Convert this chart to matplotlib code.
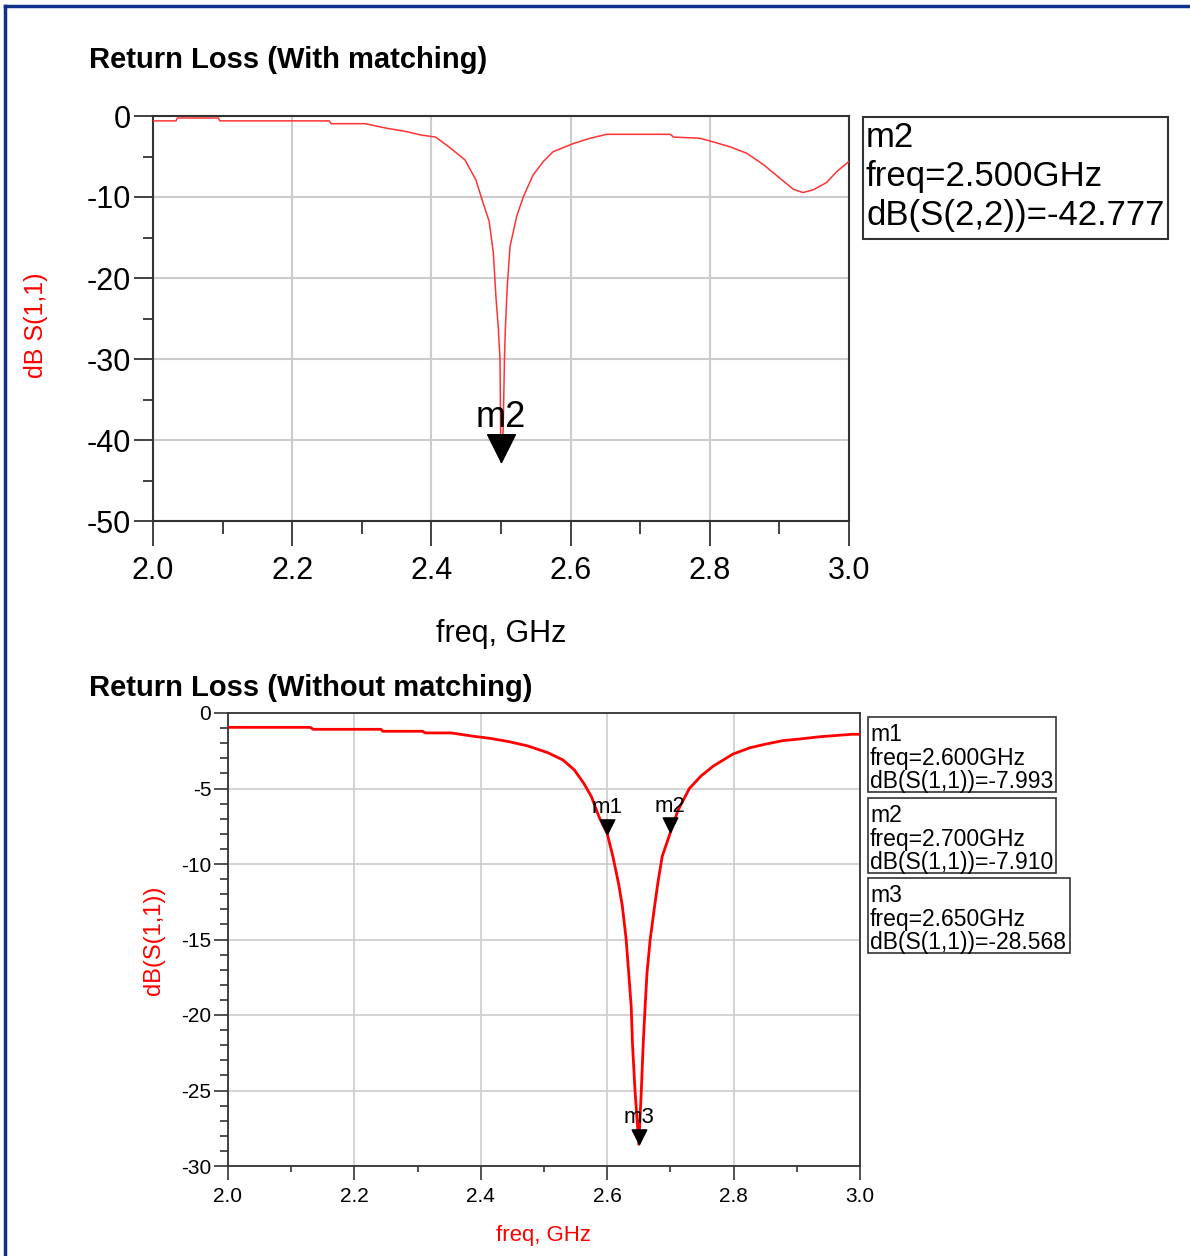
import matplotlib
matplotlib.use("Agg")
import matplotlib.pyplot as plt
from matplotlib.path import Path
from matplotlib.patches import Rectangle
from matplotlib.lines import Line2D
from matplotlib.ticker import MultipleLocator

# ---- data ----
freq_with = [2.000, 2.033, 2.035, 2.094, 2.096, 2.253, 2.256, 2.305, 2.335, 2.363,
             2.385, 2.406, 2.425, 2.448, 2.464, 2.473, 2.483, 2.489, 2.493, 2.496,
             2.4986, 2.4995, 2.500, 2.503, 2.505, 2.506, 2.509, 2.513, 2.5225, 2.532,
             2.546, 2.561, 2.575, 2.604, 2.628, 2.652, 2.743, 2.748, 2.786, 2.805,
             2.829, 2.853, 2.877, 2.901, 2.920, 2.934, 2.949, 2.968, 2.982, 3.000]
s11_with = [-0.60, -0.60, -0.25, -0.25, -0.60, -0.60, -0.95, -0.95, -1.5, -1.9,
            -2.35, -2.6, -3.8, -5.4, -7.9, -10.4, -13.0, -16.9, -22.7, -26.0,
            -30.0, -39.5, -42.777, -39.0, -30.0, -26.8, -21.0, -16.1, -12.4, -10.0,
            -7.3, -5.6, -4.4, -3.4, -2.75, -2.26, -2.26, -2.6, -2.75, -3.2,
            -3.8, -4.6, -6.0, -7.7, -9.05, -9.45, -9.1, -8.2, -6.9, -5.6]

freq_without = [2.000, 2.130, 2.135, 2.242, 2.245, 2.308, 2.312, 2.353, 2.390, 2.415,
                2.445, 2.475, 2.506, 2.530, 2.548, 2.563, 2.575, 2.587, 2.600, 2.609,
                2.618, 2.624, 2.630, 2.634, 2.638, 2.640, 2.644, 2.650, 2.654, 2.657,
                2.660, 2.663, 2.668, 2.675, 2.680, 2.687, 2.700, 2.712, 2.730, 2.748,
                2.768, 2.799, 2.826, 2.852, 2.878, 2.905, 2.937, 2.987, 3.000]
s11_without = [-0.95, -0.95, -1.08, -1.08, -1.21, -1.21, -1.32, -1.32, -1.55, -1.68,
               -1.90, -2.19, -2.63, -3.11, -3.77, -4.66, -5.54, -6.87, -7.993, -9.5,
               -11.3, -12.8, -15.0, -17.2, -19.45, -21.9, -25.0, -28.568, -25.0, -21.9,
               -19.45, -17.2, -15.0, -12.8, -11.3, -9.5, -7.910, -6.44, -5.0, -4.19,
               -3.51, -2.72, -2.30, -2.05, -1.83, -1.72, -1.57, -1.41, -1.41]

markers_with = [("m2", 2.500, -42.777, "dB(S(2,2))")]
markers_without = [("m1", 2.600, -7.993, "dB(S(1,1))"),
                   ("m2", 2.700, -7.910, "dB(S(1,1))"),
                   ("m3", 2.650, -28.568, "dB(S(1,1))")]

xticks = [2.0, 2.2, 2.4, 2.6, 2.8, 3.0]

SANS = ["Liberation Sans", "DejaVu Sans"]
plt.rcParams["font.family"] = SANS
plt.rcParams["axes.unicode_minus"] = False

W, H = 1190, 1256
fig = plt.figure(figsize=(W / 100, H / 100), dpi=100)


def fx(px):
    return px / W


def fy(py):
    return 1 - py / H


# marker: down triangle with its tip on the point
tri = Path([(0, 0), (-1, 2), (1, 2), (0, 0)], closed=True)

# ---- top chart ----
ax1 = fig.add_axes([fx(153), fy(521), fx(849) - fx(153), fy(116) - fy(521)])
ax1.plot(freq_with, s11_with, color="#ff3333", lw=1.1, zorder=3)
ax1.set_xlim(2.0, 3.0)
ax1.set_ylim(-50, 0)
ax1.set_xticks(xticks)
ax1.set_xticklabels(["%.1f" % t for t in xticks])
ax1.xaxis.set_minor_locator(MultipleLocator(0.1))
ax1.yaxis.set_major_locator(MultipleLocator(10))
ax1.yaxis.set_minor_locator(MultipleLocator(5))
ax1.grid(True, which="major", color="#cccccc", lw=1.5)
ax1.tick_params(which="major", direction="out", length=18, width=1.3, labelsize=22,
                color="#333333", pad=7)
ax1.tick_params(which="minor", direction="out", length=9, width=1.3, color="#333333")
ax1.tick_params(axis="y", which="major", length=14, pad=2)
ax1.tick_params(axis="y", which="minor", length=7)
for s in ax1.spines.values():
    s.set_color("#333333")
    s.set_linewidth(1.5)
ax1.set_xlabel("freq, GHz", fontsize=22, labelpad=24)
ax1.set_ylabel("dB S(1,1)", fontsize=18, color="red")
ax1.yaxis.set_label_coords((48 - 153) / 696, (521 - 325) / 405)
for name, f, v, _ in markers_with:
    ax1.plot([f], [v], marker=tri, markersize=40, color="black", zorder=5, clip_on=False)
    ax1.text(f, v + 5.6, name, fontsize=26, ha="center", va="center", zorder=6)

fig.text(fx(89), fy(60), "Return Loss (With matching)", fontsize=21, fontweight="bold",
         ha="left", va="center")

# marker readout box (top)
fig.add_artist(Rectangle((fx(863), fy(239)), fx(1168) - fx(863), fy(117) - fy(239),
                         transform=fig.transFigure, fill=False, ec="#333333", lw=1.5))
for name, f, v, lab in markers_with:
    fig.text(fx(866), fy(121), "%s\nfreq=%.3fGHz\n%s=%.3f" % (name, f, lab, v),
             fontsize=25, ha="left", va="top", linespacing=1.24)

# ---- bottom chart ----
ax2 = fig.add_axes([fx(228), fy(1166), fx(860) - fx(228), fy(713) - fy(1166)])
ax2.plot(freq_without, s11_without, color="red", lw=2, zorder=3)
ax2.set_xlim(2.0, 3.0)
ax2.set_ylim(-30, 0)
ax2.set_xticks(xticks)
ax2.set_xticklabels(["%.1f" % t for t in xticks])
ax2.xaxis.set_minor_locator(MultipleLocator(0.1))
ax2.yaxis.set_major_locator(MultipleLocator(5))
ax2.yaxis.set_minor_locator(MultipleLocator(1))
ax2.grid(True, which="major", color="#cccccc", lw=1.2)
ax2.tick_params(which="major", direction="out", length=10, width=1.2, labelsize=15,
                color="#333333", pad=5)
ax2.tick_params(which="minor", direction="out", length=4, width=1.2, color="#333333")
ax2.tick_params(axis="y", which="major", pad=2)
ax2.tick_params(axis="y", which="minor", length=6)
for s in ax2.spines.values():
    s.set_color("#333333")
    s.set_linewidth(1.3)
ax2.set_xlabel("freq, GHz", fontsize=16, color="red", labelpad=14)
ax2.set_ylabel("dB(S(1,1))", fontsize=17, color="red")
ax2.yaxis.set_label_coords((165 - 228) / 632, (1166 - 940) / 453)
for name, f, v, _ in markers_without:
    ax2.plot([f], [v], marker=tri, markersize=21, color="black", zorder=5, clip_on=False)
    ax2.text(f, v + 1.75, name, fontsize=16, ha="center", va="center", zorder=6)

fig.text(fx(89), fy(688), "Return Loss (Without matching)", fontsize=21, fontweight="bold",
         ha="left", va="center")

# marker readout boxes (bottom)
box_tops = [717, 798, 878]
box_rights = [1056, 1056, 1070]
for (name, f, v, lab), top, right in zip(markers_without, box_tops, box_rights):
    fig.add_artist(Rectangle((fx(868), fy(top + 75)), fx(right) - fx(868), fy(top) - fy(top + 75),
                             transform=fig.transFigure, fill=False, ec="#333333", lw=1.2))
    fig.text(fx(870), fy(top + 6), "%s\nfreq=%.3fGHz\n%s=%.3f" % (name, f, lab, v),
             fontsize=16.5, ha="left", va="top", linespacing=1.04)

# blue page border (top and left)
fig.add_artist(Line2D([fx(5), 1], [fy(6), fy(6)], transform=fig.transFigure,
                      color="#10308c", lw=2.5))
fig.add_artist(Line2D([fx(5), fx(5)], [fy(6), 0], transform=fig.transFigure,
                      color="#10308c", lw=2.5))

fig.savefig("out.png", dpi=100)
